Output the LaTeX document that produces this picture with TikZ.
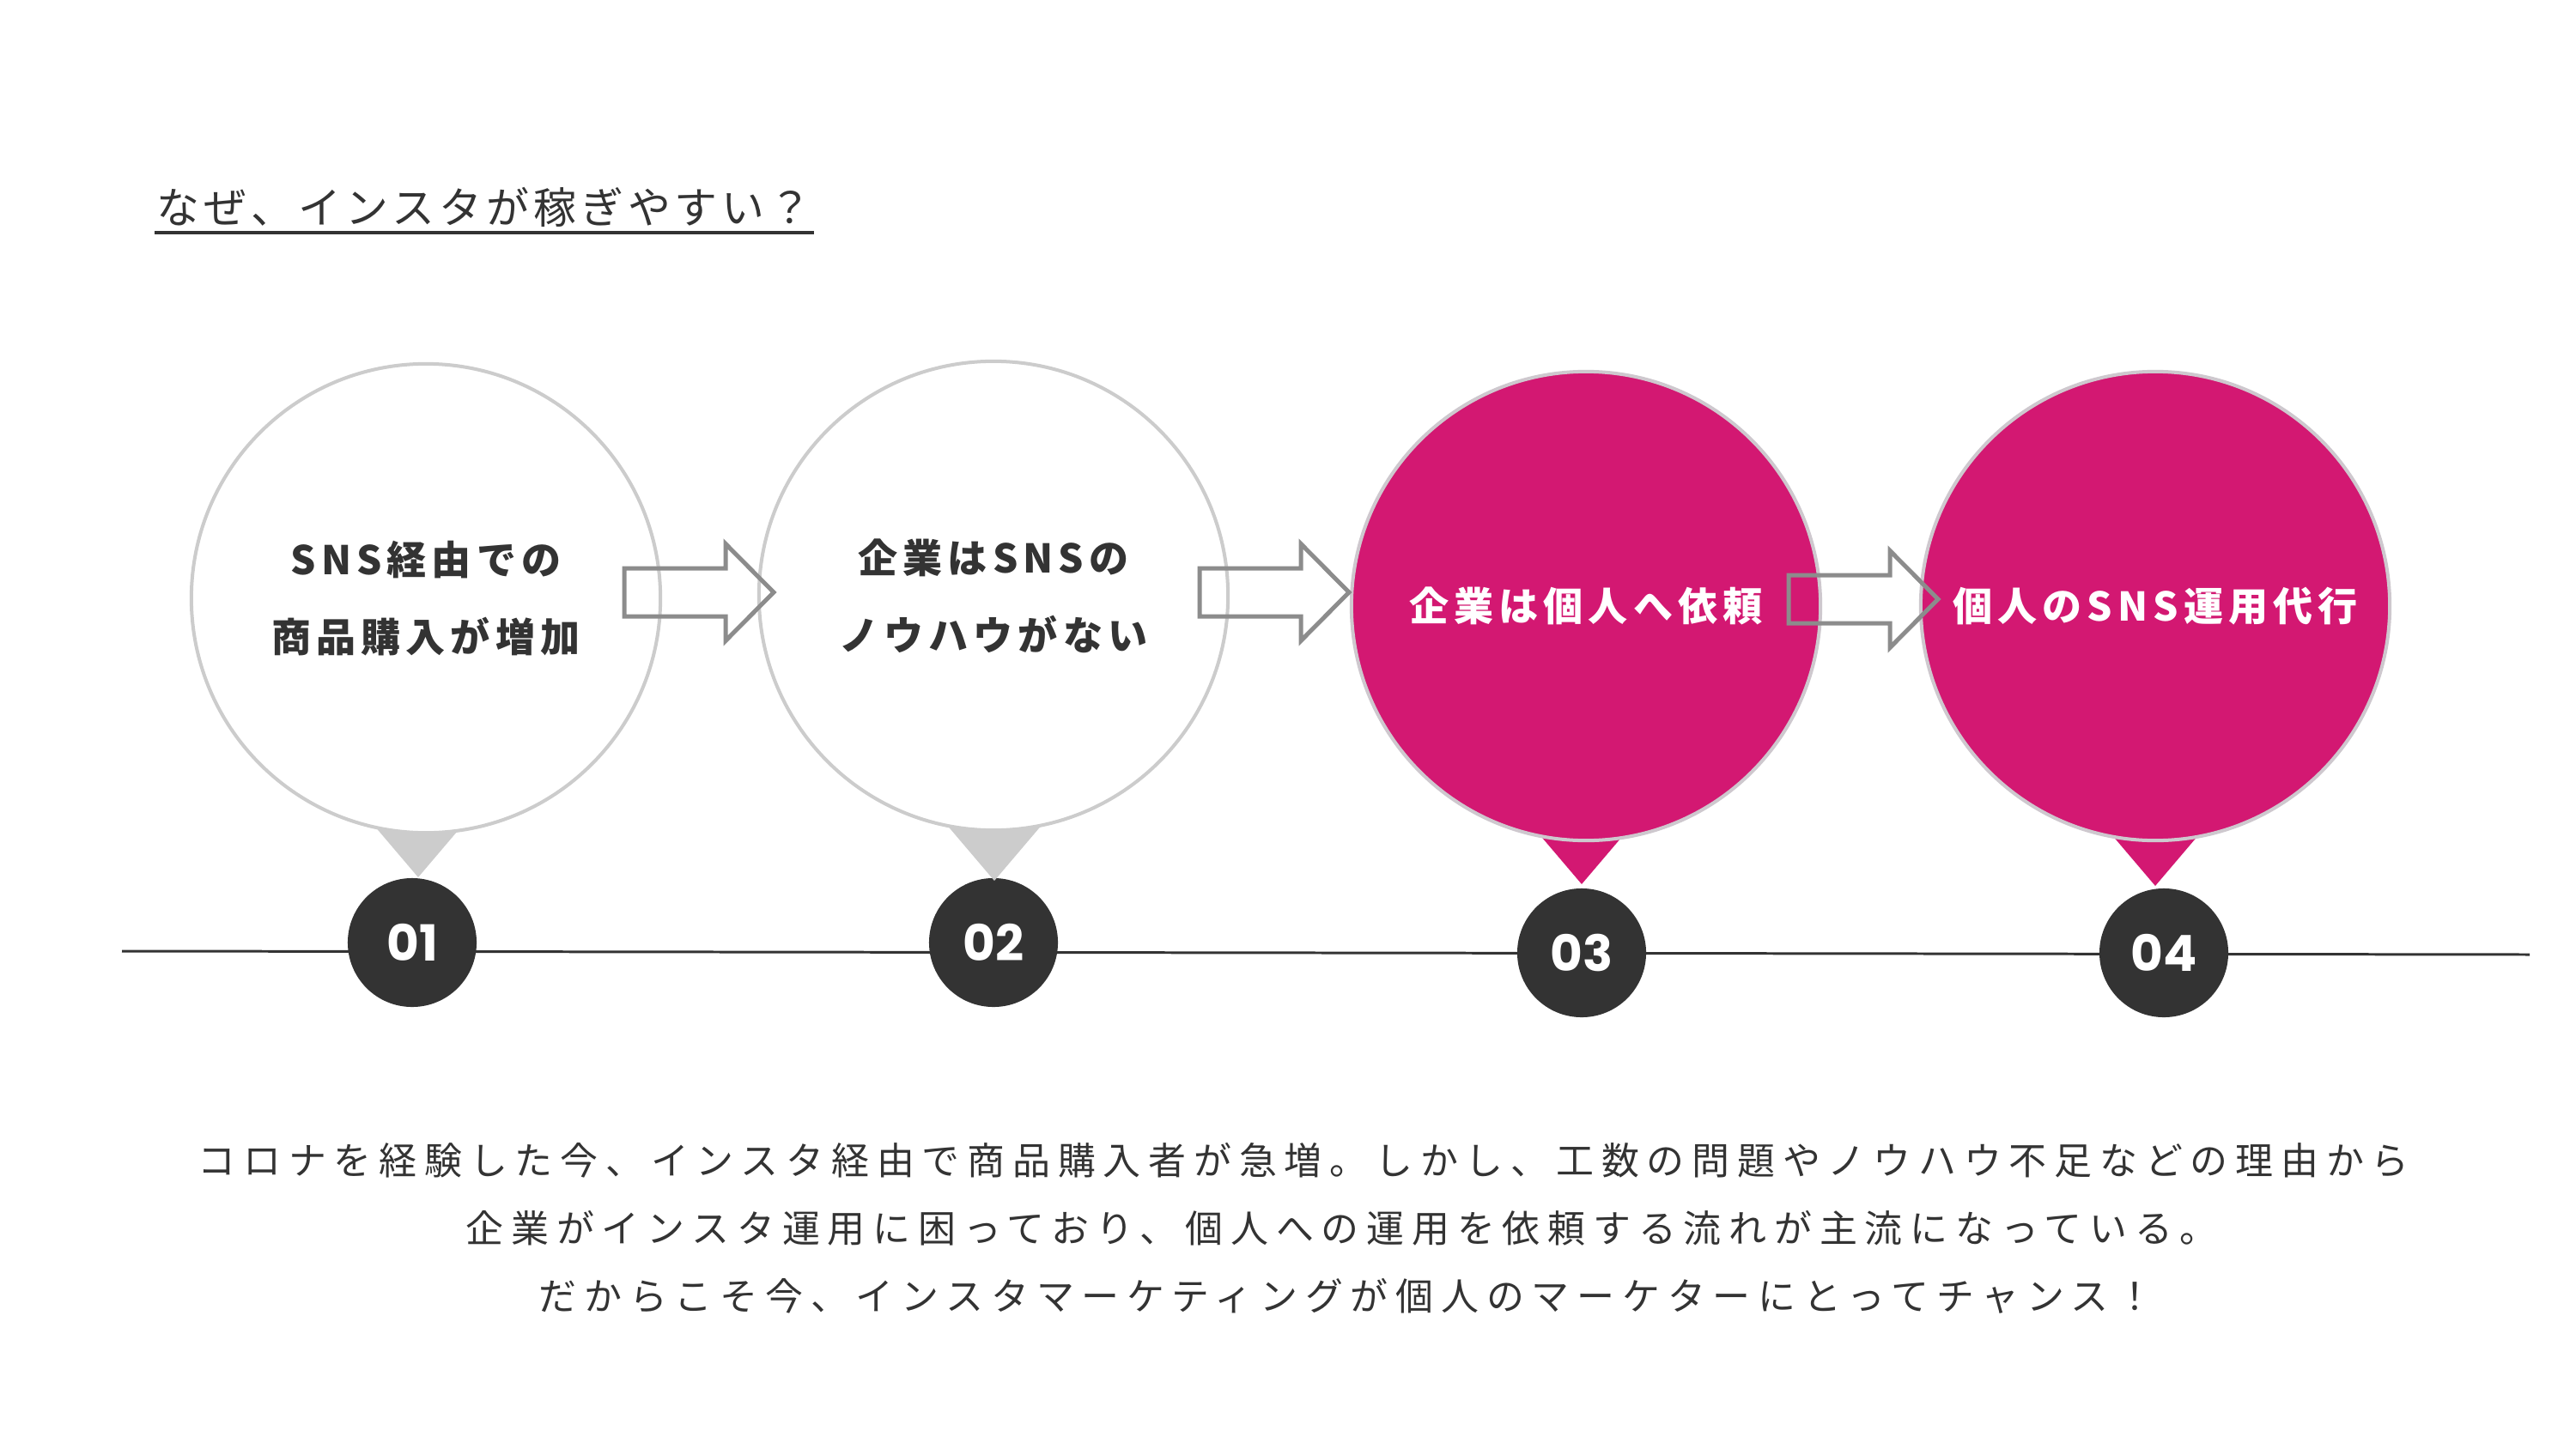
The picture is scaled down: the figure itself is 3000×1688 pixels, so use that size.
\documentclass[tikz,border=0pt]{standalone}
\usepackage{fontspec}
\usetikzlibrary{calc}
\newfontfamily\titlefont{Noto Sans CJK JP}[LetterSpace=10]
\newfontfamily\bodyfont{Noto Sans CJK JP}[LetterSpace=20]
\newfontfamily\circjp{Noto Sans CJK JP}[LetterSpace=13]
\newfontfamily\numfont{Poppins}
\definecolor{hotpink}{RGB}{211,24,114}
\definecolor{ringgray}{RGB}{204,204,204}
\definecolor{hotring}{RGB}{206,200,206}
\definecolor{arrowgray}{RGB}{140,140,140}
\definecolor{numdark}{RGB}{51,51,51}
\definecolor{textdark}{RGB}{51,51,51}

\begin{document}
\begin{tikzpicture}[
  x=0.01cm,y=-0.01cm,
  bubble/.style={circle,draw=ringgray,line width=1.14pt,fill=white,minimum size=5.46cm,inner sep=0pt,align=center,
    font=\circjp\bfseries\fontsize{13.1}{25.6}\selectfont,text=textdark},
  hotbubble/.style={bubble,draw=hotring,fill=hotpink,text=white},
  numdot/.style={circle,fill=numdark,minimum size=1.5cm,inner sep=0pt,
    font=\numfont\bfseries\fontsize{16.5}{16.5}\selectfont,text=white},
  blockarr/.style={draw=arrowgray,line width=1.42pt,line join=miter},
  bodyline/.style={anchor=base west,inner sep=0pt,font=\bodyfont\fontsize{12.5}{12.5}\selectfont,text=textdark}
]
\useasboundingbox (0,0) rectangle (3000,1688);
\fill[white] (0,0) rectangle (3000,1688);

% title
\node[anchor=base west,inner sep=0pt,font=\titlefont\fontsize{14.2}{14.2}\selectfont,text=textdark] (title) at (182,261) {なぜ、インスタが稼ぎやすい？};
\draw[textdark,line width=1.14pt] ($(title.base west)+(-2,10)$) -- ($(title.base east)+(2,10)$);

% time line
\coordinate (lstart) at (142,1108);
\coordinate (lend) at (2946,1112);
\draw[numdark,line width=0.85pt] (lstart) -- (lend);

\node[numdot] (n1) at (480,1098) {01};
\node[numdot] (n2) at (1157,1098) {02};
\node[numdot] (n3) at (1842,1110) {03};
\node[numdot] (n4) at (2520,1110) {04};

% pointers
\coordinate (t1) at (487,1022);
\coordinate (t2) at (1158,1026);
\coordinate (t3) at (1842,1030);
\coordinate (t4) at (2510,1032);
\foreach \t/\c in {t1/ringgray,t2/ringgray,t3/hotpink,t4/hotpink}
  \fill[\c] (\t) -- ++(-68,-80) -- ++(136,0) -- cycle;

% steps
\node[bubble] (b1) at (496,697) {SNS経由での\\商品購入が増加};
\node[bubble] (b2) at (1157,694) {企業はSNSの\\ノウハウがない};
\node[hotbubble] (b3) at (1847,706) {企業は個人へ依頼};
\node[hotbubble] (b4) at (2510,706) {個人のSNS運用代行};

% arrows
\coordinate (a1) at (727,690);
\coordinate (a2) at (1397,690);
\coordinate (a3) at (2083,698);
\foreach \p in {a1,a2,a3}
  \draw[blockarr] (\p) ++(0,-28) -- ++(118,0) -- ++(0,-28.5) -- ++(56,56.5) -- ++(-56,56.5) -- ++(0,-28.5) -- ++(-118,0) -- cycle;

% text
\node[bodyline] (l1) at (230,1368) {コロナを経験した今、インスタ経由で商品購入者が急増。しかし、工数の問題やノウハウ不足などの理由から};
\node[bodyline] (l2) at (542,1447) {企業がインスタ運用に困っており、個人への運用を依頼する流れが主流になっている。};
\node[bodyline] (l3) at (627,1526) {だからこそ今、インスタマーケティングが個人のマーケターにとってチャンス！};
\end{tikzpicture}
\end{document}
